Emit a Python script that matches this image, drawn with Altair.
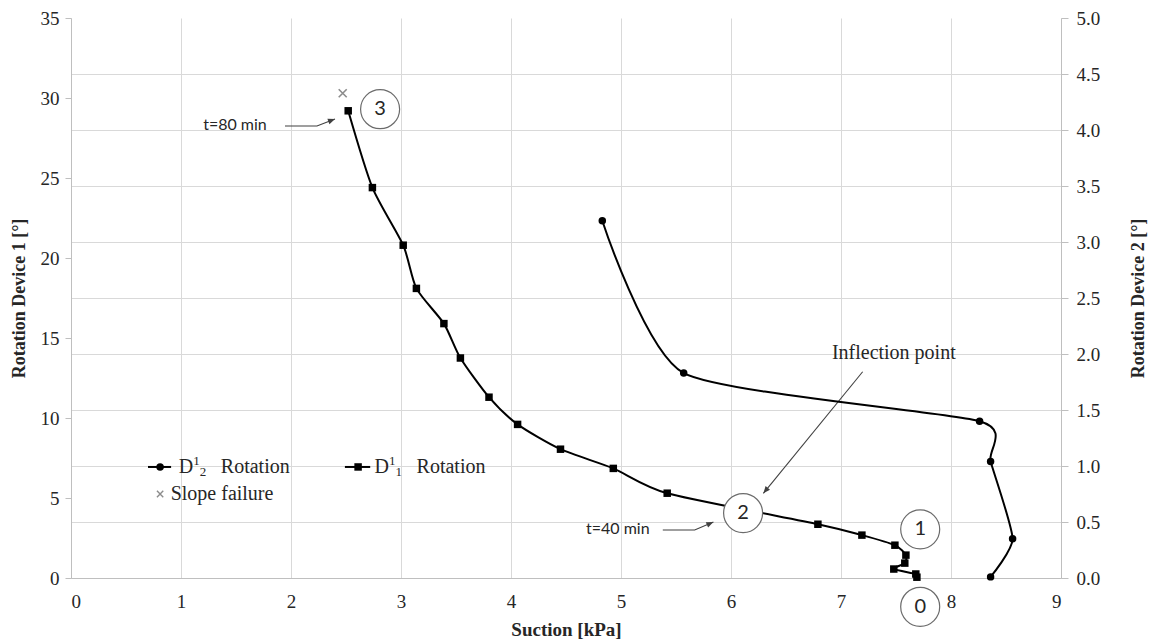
import altair as alt
import pandas as pd

# ---- series D1_1 rotation (left axis, degrees) ----
d11_x = [2.52, 2.74, 3.02, 3.14, 3.39, 3.54, 3.80, 4.06, 4.45, 4.93, 5.42, 6.79, 7.19, 7.49, 7.59, 7.58, 7.48, 7.68, 7.69]
d11_y = [29.2, 24.4, 20.8, 18.1, 15.9, 13.75, 11.3, 9.6, 8.05, 6.85, 5.3, 3.36, 2.68, 2.05, 1.43, 0.93, 0.56, 0.25, 0.05]

# ---- series D1_2 rotation (right axis, degrees) ----
d12_x = [4.83, 5.57, 8.26, 8.36, 8.56, 8.36]
d12_y = [3.19, 1.83, 1.40, 1.04, 0.35, 0.01]

# ---- slope failure marker ----
failure_x = [2.47]
failure_y = [30.3]

# ---- circled stage numbers ----
stage_labels = ["3", "2", "1", "0"]
stage_x = [2.81, 6.11, 7.72, 7.72]
stage_y = [29.3, 4.06, 3.04, -1.8]

# ---- time notes ----
note_text = ["t=80 min", "t=40 min"]
note_x = [1.78, 5.26]
note_y = [28.3, 3.04]

infl_text = ["Inflection point"]
infl_x = [7.48]
infl_y = [14.06]

# ---- annotation arrows ----
arrow_id = ["a", "a", "a", "b", "b", "b", "c", "c"]
arrow_x = [1.945, 2.236, 2.40, 5.38, 5.67, 5.84, 7.197, 6.294]
arrow_y = [28.25, 28.25, 28.69, 3.0, 3.0, 3.5, 12.89, 5.29]
head_x = [2.40, 5.84, 6.294]
head_y = [28.69, 3.5, 5.29]
head_angle = [339, 336, 129]

# ---- legend ----
leg_line_id = ["d12", "d12", "d11", "d11"]
leg_line_x = [0.70, 0.91, 2.49, 2.72]
leg_row_y = [6.94, 5.25]
leg_sym_x = [0.81, 2.61]
leg_text_x = [0.98, 2.76]
leg_sub = ["2", "1"]

df11 = pd.DataFrame({"x": d11_x, "y": d11_y, "i": range(len(d11_x))})
df12 = pd.DataFrame({"x": d12_x, "y": d12_y, "i": range(len(d12_x))})
dfail = pd.DataFrame({"x": failure_x, "y": failure_y})
dstage = pd.DataFrame({"x": stage_x, "y": stage_y, "t": stage_labels})
dnote = pd.DataFrame({"x": note_x, "y": note_y, "t": note_text})
dinfl = pd.DataFrame({"x": infl_x, "y": infl_y, "t": infl_text})
darrow = pd.DataFrame({"x": arrow_x, "y": arrow_y, "g": arrow_id, "i": range(len(arrow_x))})
dhead = pd.DataFrame({"x": head_x, "y": head_y, "a": head_angle})
dleg_line = pd.DataFrame({"x": leg_line_x, "y": [leg_row_y[0]] * 4, "g": leg_line_id})
dleg_dot = pd.DataFrame({"x": [leg_sym_x[0]], "y": [leg_row_y[0]]})
dleg_sq = pd.DataFrame({"x": [leg_sym_x[1]], "y": [leg_row_y[0]]})
dleg_text = pd.DataFrame({"x": leg_text_x, "y": [leg_row_y[0]] * 2, "sub": leg_sub})
dleg_fail = pd.DataFrame({"x": [leg_sym_x[0]], "y": [leg_row_y[1]]})
dleg_fail_t = pd.DataFrame({"x": [0.906], "y": [leg_row_y[1]], "t": ["Slope failure"]})

SERIF = "Liberation Serif"
SANS = "Lato"
GRID = "#d9d9d9"
AXC = "#bfbfbf"
TXT = "#262626"

X = alt.X("x:Q", scale=alt.Scale(domain=[0, 9], nice=False, zero=False),
          axis=alt.Axis(values=list(range(10)), grid=True, gridColor=GRID, gridWidth=1,
                        domainColor=AXC, ticks=False, labelPadding=14,
                        labelFont=SERIF, labelFontSize=19, labelColor=TXT,
                        title="Suction [kPa]", titleFont=SERIF, titleFontSize=19,
                        titleFontWeight="bold", titleColor=TXT, titlePadding=9))

YL = alt.Y("y:Q", scale=alt.Scale(domain=[0, 35], nice=False, zero=False),
           axis=alt.Axis(values=[0, 5, 10, 15, 20, 25, 30, 35], grid=False,
                         tickSize=6, tickColor=AXC, domainColor=AXC, labelPadding=6,
                         labelFont=SERIF, labelFontSize=19, labelColor=TXT,
                         title="Rotation Device 1 [°]", titleFont=SERIF, titleFontSize=18,
                         titleFontWeight="bold", titleColor=TXT, titlePadding=12))

YR = alt.Y("y:Q", scale=alt.Scale(domain=[0, 5], nice=False, zero=False),
           axis=alt.Axis(orient="right", values=[i * 0.5 for i in range(11)], format=".1f",
                         grid=True, gridColor=GRID, gridWidth=1,
                         gridOpacity={"condition": {"test": "datum.value >= 5", "value": 0}, "value": 1},
                         tickSize=7, tickColor=AXC, domainColor=AXC, labelPadding=8,
                         labelFont=SERIF, labelFontSize=19, labelColor=TXT,
                         title="Rotation Device 2 [°]", titleFont=SERIF, titleFontSize=18,
                         titleFontWeight="bold", titleColor=TXT, titlePadding=30,
                         titleAngle=270, titleBaseline="top"))

line11 = alt.Chart(df11).mark_line(interpolate="cardinal", tension=0.3, color="#000",
                                   strokeWidth=2).encode(x=X, y=YL, order="i:Q")
pts11 = alt.Chart(df11).mark_point(shape="square", filled=True, size=56, color="#000", opacity=1).encode(
    x=X, y=YL)
fail = alt.Chart(dfail).mark_point(shape="M-1,-1L1,1M-1,1L1,-1", filled=False, size=64,
                                   color="#8c8c8c", strokeWidth=1.6, opacity=1).encode(x=X, y=YL)
arrows = alt.Chart(darrow).mark_line(color="#404040", strokeWidth=1.1).encode(
    x=X, y=YL, detail="g:N", order="i:Q")
heads = alt.Chart(dhead).mark_point(shape="M0,0L-2,-0.8L-2,0.8Z", filled=True, size=50,
                                    color="#404040", opacity=1).encode(
    x=X, y=YL, angle=alt.Angle("a:Q", scale=None))
stage_c = alt.Chart(dstage).mark_point(shape="circle", filled=True, fill="white", stroke="#6b6b6b",
                                       strokeWidth=1.2, size=1521, opacity=1, fillOpacity=1,
                                       strokeOpacity=1).encode(x=X, y=YL)
stage_t = alt.Chart(dstage).mark_text(font=SANS, fontSize=20, color=TXT, baseline="middle",
                                      align="center").encode(x=X, y=YL, text="t:N")
notes = alt.Chart(dnote).mark_text(font=SANS, fontSize=16, color=TXT, baseline="middle",
                                   align="right").encode(x=X, y=YL, text="t:N")
infl = alt.Chart(dinfl).mark_text(font=SERIF, fontSize=20, color=TXT, baseline="middle",
                                  align="center").encode(x=X, y=YL, text="t:N")

leg_lines = alt.Chart(dleg_line).mark_line(color="#000", strokeWidth=2).encode(x=X, y=YL, detail="g:N")
leg_dot = alt.Chart(dleg_dot).mark_point(shape="circle", filled=True, size=56, color="#000",
                                         opacity=1).encode(x=X, y=YL)
leg_sq = alt.Chart(dleg_sq).mark_point(shape="square", filled=True, size=56, color="#000",
                                       opacity=1).encode(x=X, y=YL)
leg_D = alt.Chart(dleg_text).mark_text(font=SERIF, fontSize=20, color=TXT, baseline="middle",
                                       align="left", text="D").encode(x=X, y=YL)
leg_sup = alt.Chart(dleg_text).mark_text(font=SERIF, fontSize=13, color=TXT, baseline="middle",
                                         align="left", text="1", dx=14.5, dy=-6).encode(x=X, y=YL)
leg_subm = alt.Chart(dleg_text).mark_text(font=SERIF, fontSize=13, color=TXT, baseline="middle",
                                          align="left", dx=21, dy=5).encode(x=X, y=YL, text="sub:N")
leg_rot = alt.Chart(dleg_text).mark_text(font=SERIF, fontSize=20, color=TXT, baseline="middle",
                                         align="left", text="Rotation", dx=42).encode(x=X, y=YL)
leg_fail = alt.Chart(dleg_fail).mark_point(shape="M-1,-1L1,1M-1,1L1,-1", filled=False, size=40,
                                           color="#8c8c8c", strokeWidth=1.4, opacity=1).encode(x=X, y=YL)
leg_fail_t = alt.Chart(dleg_fail_t).mark_text(font=SERIF, fontSize=20, color=TXT, baseline="middle",
                                              align="left").encode(x=X, y=YL, text="t:N")

line12 = alt.Chart(df12).mark_line(interpolate="cardinal", tension=0.4, color="#000",
                                   strokeWidth=2).encode(x=X, y=YR, order="i:Q")
pts12 = alt.Chart(df12).mark_point(shape="circle", filled=True, size=56, color="#000", opacity=1).encode(
    x=X, y=YR)

left = alt.layer(line11, pts11, fail, arrows, heads, stage_c, stage_t, notes, infl,
                 leg_lines, leg_dot, leg_sq, leg_D, leg_sup, leg_subm, leg_rot, leg_fail, leg_fail_t)
right = alt.layer(line12, pts12)

chart = alt.layer(left, right).resolve_scale(y="independent").properties(
    width=990, height=560,
    autosize=alt.AutoSizeParams(type="none"),
    padding={"left": 71, "top": 18, "right": 97, "bottom": 64},
    background="white",
).configure_view(strokeWidth=0).configure_axis(labelFont=SERIF, titleFont=SERIF)

chart.save("out.html", embed_options={"renderer": "svg", "actions": False})
